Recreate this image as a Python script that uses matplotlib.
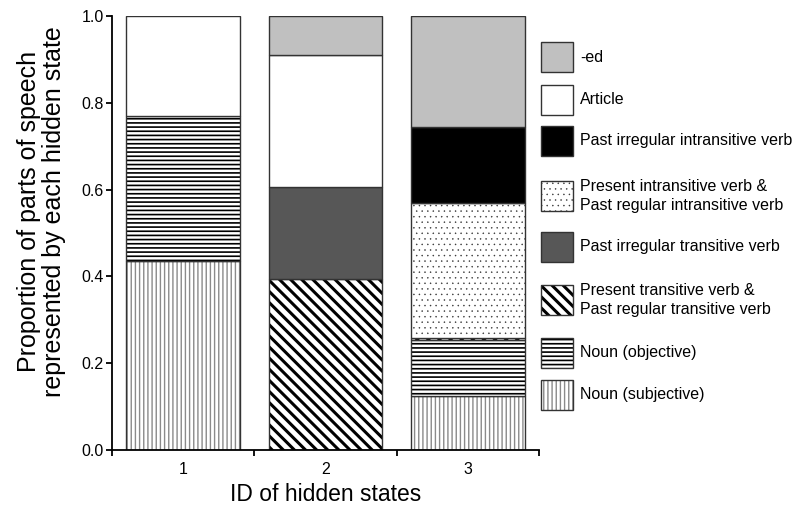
import matplotlib
matplotlib.use("Agg")
import matplotlib.pyplot as plt
from matplotlib.patches import Rectangle

plt.rcParams['font.family'] = ['Liberation Sans', 'DejaVu Sans']

# hidden state IDs
states = ["1", "2", "3"]

# proportions, bottom of the stack first
noun_subj = [0.435, 0.0, 0.124]
noun_obj = [0.335, 0.0, 0.129]
pres_trans = [0.0, 0.393, 0.006]
past_irr_trans = [0.0, 0.214, 0.0]
pres_intrans = [0.0, 0.0, 0.309]
past_irr_intrans = [0.0, 0.0, 0.177]
article = [0.230, 0.303, 0.0]
ed = [0.0, 0.090, 0.255]

series = [
    ("Noun (subjective)", noun_subj),
    ("Noun (objective)", noun_obj),
    ("Present transitive verb &\nPast regular transitive verb", pres_trans),
    ("Past irregular transitive verb", past_irr_trans),
    ("Present intransitive verb &\nPast regular intransitive verb", pres_intrans),
    ("Past irregular intransitive verb", past_irr_intrans),
    ("Article", article),
    ("-ed", ed),
]

# face colour, hatch, hatch colour, hatch line width
styles = {
    "Noun (subjective)": ("white", "||||", "#8a8a8a", 1.0),
    "Noun (objective)": ("white", "----", "black", 1.2),
    "Present transitive verb &\nPast regular transitive verb": ("white", "\\\\\\", "black", 2.2),
    "Past irregular transitive verb": ("#575757", None, "#575757", 1.0),
    "Present intransitive verb &\nPast regular intransitive verb": ("white", "...", "#333333", 0.3),
    "Past irregular intransitive verb": ("black", None, "black", 1.0),
    "Article": ("white", None, "white", 1.0),
    "-ed": ("#c0c0c0", None, "#c0c0c0", 1.0),
}
outline = "#333333"

W, H = 798, 507
fig = plt.figure(figsize=(W / 100, H / 100), dpi=100)
ax = fig.add_axes([112 / W, 1 - 450 / H, 427 / W, 434 / H])

x = list(range(len(states)))
bottom = [0.0] * len(states)
for name, vals in series:
    fc, hatch, hc, hlw = styles[name]
    for i, v in enumerate(vals):
        if v > 0:
            with plt.rc_context({'hatch.linewidth': hlw}):
                ax.bar(x[i], v, 0.8, bottom=bottom[i], color=fc, edgecolor=hc,
                       hatch=hatch, linewidth=0)
            ax.bar(x[i], v, 0.8, bottom=bottom[i], fill=False,
                   edgecolor=outline, linewidth=1)
        bottom[i] += v

ax.set_xlim(-0.5, len(states) - 0.5)
ax.set_ylim(0, 1.0)
ax.spines['top'].set_visible(False)
ax.spines['right'].set_visible(False)
ax.spines['left'].set_linewidth(1.3)
ax.spines['bottom'].set_linewidth(1.3)

ax.set_yticks([0.0, 0.2, 0.4, 0.6, 0.8, 1.0])
ax.set_yticklabels(["%.1f" % t for t in [0.0, 0.2, 0.4, 0.6, 0.8, 1.0]])
ax.tick_params(axis='y', direction='out', length=4, width=1.3, pad=2, labelsize=11.5)

ax.set_xticks([-0.5, 0.5, 1.5, 2.5])
ax.set_xticklabels([])
ax.set_xticks(x, minor=True)
ax.set_xticklabels(states, minor=True)
ax.tick_params(axis='x', which='major', direction='out', length=4, width=1.3)
ax.tick_params(axis='x', which='minor', length=0, pad=9, labelsize=11.5)

ax.set_xlabel("ID of hidden states", fontsize=16.5, labelpad=4)
ax.set_ylabel("Proportion of parts of speech\nrepresented by each hidden state",
              fontsize=18, linespacing=1.05)
ax.yaxis.set_label_coords(-0.108, 0.549)

# legend drawn by hand, top entry first
leg_names = ["-ed", "Article", "Past irregular intransitive verb",
             "Present intransitive verb &\nPast regular intransitive verb",
             "Past irregular transitive verb",
             "Present transitive verb &\nPast regular transitive verb",
             "Noun (objective)", "Noun (subjective)"]
leg_y = [57, 100, 141, 196, 247, 300, 353, 395]
for name, yc in zip(leg_names, leg_y):
    fc, hatch, hc, hlw = styles[name]
    with plt.rc_context({'hatch.linewidth': hlw}):
        r = Rectangle((541 / W, 1 - (yc + 15) / H), 32 / W, 30 / H,
                      transform=fig.transFigure, facecolor=fc, edgecolor=hc,
                      hatch=hatch, linewidth=0)
    fig.add_artist(r)
    fig.add_artist(Rectangle((541 / W, 1 - (yc + 15) / H), 32 / W, 30 / H,
                             transform=fig.transFigure, fill=False,
                             edgecolor=outline, linewidth=1))
    fig.text(580 / W, 1 - yc / H, name, fontsize=11.5, va='center', ha='left',
             linespacing=1.4)

fig.savefig("out.png", dpi=100)
